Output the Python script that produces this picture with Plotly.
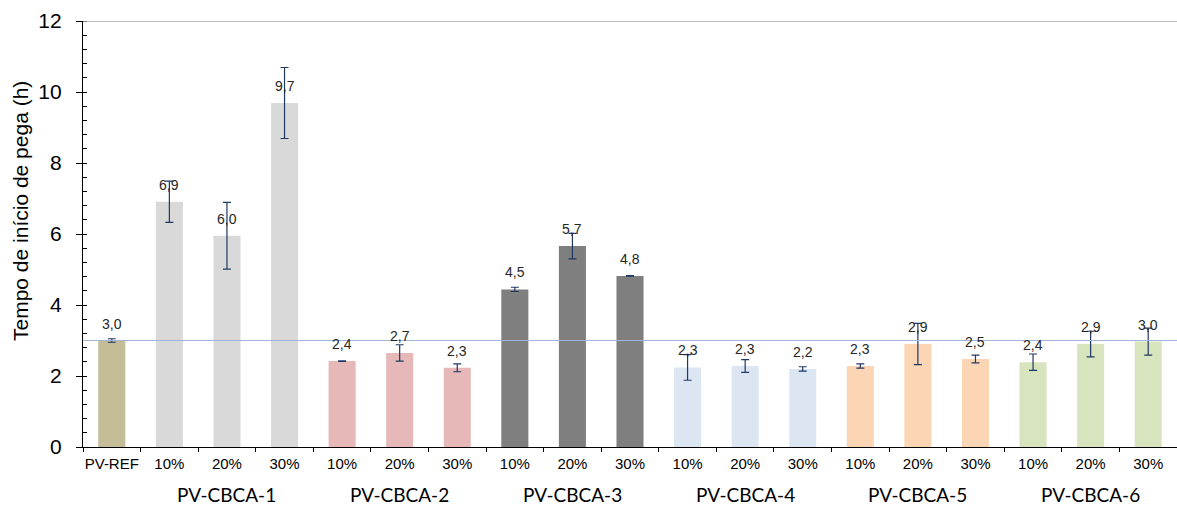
import plotly.graph_objects as go

categories = ["PV-REF",
              "CBCA-1 10%", "CBCA-1 20%", "CBCA-1 30%",
              "CBCA-2 10%", "CBCA-2 20%", "CBCA-2 30%",
              "CBCA-3 10%", "CBCA-3 20%", "CBCA-3 30%",
              "CBCA-4 10%", "CBCA-4 20%", "CBCA-4 30%",
              "CBCA-5 10%", "CBCA-5 20%", "CBCA-5 30%",
              "CBCA-6 10%", "CBCA-6 20%", "CBCA-6 30%"]
tick_labels = ["PV-REF"] + ["10%", "20%", "30%"] * 6
values = [3.0,
          6.91, 5.95, 9.69,
          2.42, 2.65, 2.23,
          4.44, 5.66, 4.82,
          2.24, 2.28, 2.20,
          2.28, 2.90, 2.48,
          2.39, 2.90, 2.97]
errors = [0.05,
          0.58, 0.94, 1.00,
          0.01, 0.23, 0.11,
          0.06, 0.36, 0.01,
          0.36, 0.18, 0.06,
          0.06, 0.58, 0.11,
          0.23, 0.36, 0.38]
value_labels = ["3,0",
                "6,9", "6,0", "9,7",
                "2,4", "2,7", "2,3",
                "4,5", "5,7", "4,8",
                "2,3", "2,3", "2,2",
                "2,3", "2,9", "2,5",
                "2,4", "2,9", "3,0"]
group_names = ["PV-CBCA-1", "PV-CBCA-2", "PV-CBCA-3",
               "PV-CBCA-4", "PV-CBCA-5", "PV-CBCA-6"]
group_colors = ["#C4BD97", "#D9D9D9", "#E6B9B8", "#7F7F7F",
                "#DCE6F2", "#FCD5B5", "#D7E4BD"]
y_title = "Tempo de início de pega (h)"
reference_value = 3.0

bar_colors = [group_colors[0]] + [c for c in group_colors[1:] for _ in range(3)]

ARIAL = "Liberation Sans, Arial, sans-serif"

fig = go.Figure()
fig.add_trace(go.Bar(
    x=categories, y=values,
    marker=dict(color=bar_colors, line=dict(width=0)),
    error_y=dict(type="data", array=errors, visible=True,
                 color="#1F3864", thickness=1.2, width=4),
    width=0.47,
    hoverinfo="skip",
))

annotations = []
for c, v, e, lab in zip(categories, values, errors, value_labels):
    annotations.append(dict(x=c, y=v, xref="x", yref="y", text=lab,
                            showarrow=False, yshift=17,
                            font=dict(family=ARIAL, size=14, color="#262626")))
for i, g in enumerate(group_names):
    annotations.append(dict(x=categories[2 + 3 * i], y=-60 / 426, xref="x", yref="paper",
                            text=g, showarrow=False, yanchor="bottom", borderpad=0,
                            font=dict(family="Lato, Noto Sans, sans-serif", size=19, color="#000000")))
annotations.append(dict(x=-63 / 1094, y=(447 - 211) / 426, xref="paper", yref="paper",
                        text=y_title, textangle=-90, showarrow=False,
                        xanchor="center", yanchor="middle",
                        font=dict(family=ARIAL, size=21, color="#000000")))

fig.update_layout(
    width=1177, height=508,
    margin=dict(l=83, r=0, t=21, b=61),
    paper_bgcolor="white", plot_bgcolor="white",
    showlegend=False,
    bargap=0.53,
    annotations=annotations,
    shapes=[
        dict(type="line", xref="paper", yref="y", x0=0, x1=1,
             y0=reference_value, y1=reference_value,
             line=dict(color="#9FB6D3", width=1.2)),
        dict(type="line", xref="paper", yref="y", x0=0, x1=1,
             y0=12, y1=12, line=dict(color="#A6A6A6", width=1.5)),
    ],
)
fig.update_xaxes(
    tickmode="array", tickvals=categories, ticktext=tick_labels,
    tickson="boundaries", ticks="outside", ticklen=4, tickcolor="#000000",
    tickangle=0, ticklabelstandoff=3,
    showline=True, linecolor="#000000", linewidth=1.2,
    tickfont=dict(family=ARIAL, size=15, color="#000000"),
    showgrid=False, range=[-0.5, 18.5],
)
fig.update_yaxes(
    range=[0, 12], dtick=2, tick0=0,
    ticks="outside", ticklen=6, tickcolor="#000000",
    ticksuffix=" \u2009",
    showline=True, linecolor="#000000", linewidth=1.2,
    showgrid=False, zeroline=False,
    tickfont=dict(family=ARIAL, size=21, color="#000000"),
    minor=dict(dtick=0.4, tick0=0, ticks="inside", ticklen=4, tickcolor="#000000", showgrid=False),
)

fig.write_html("out.html")
